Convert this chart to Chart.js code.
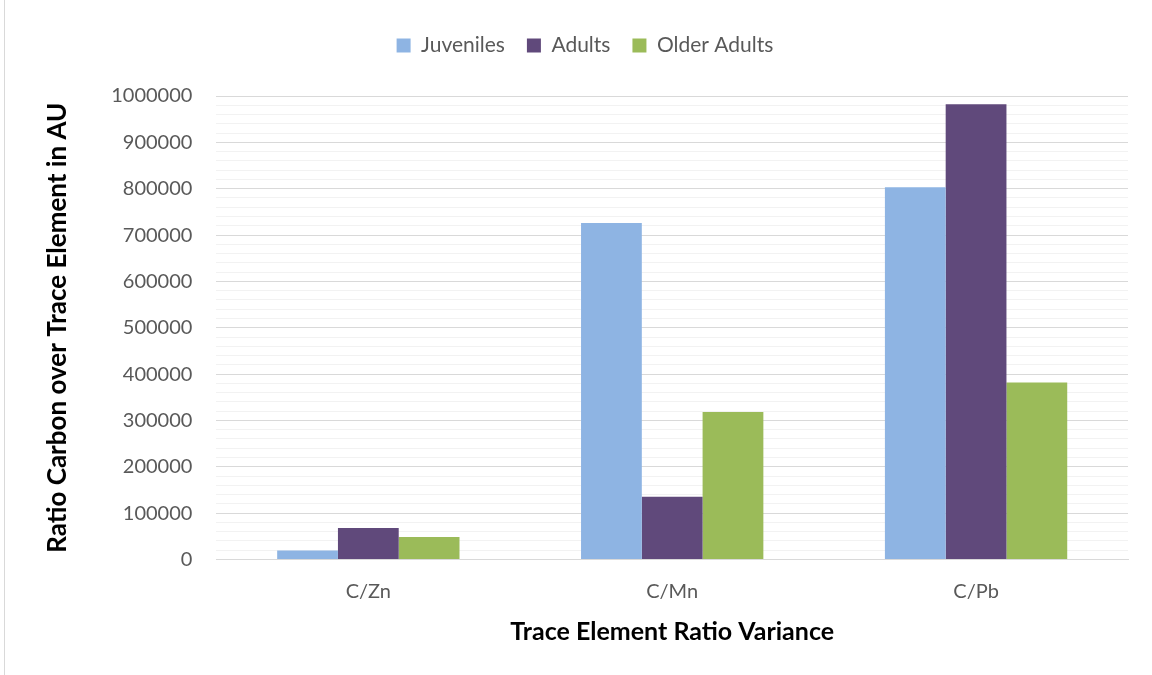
<!DOCTYPE html>
<html>
<head>
<meta charset="utf-8">
<script src="https://cdn.jsdelivr.net/npm/chart.js@4"></script>
<style>
  html, body { margin: 0; padding: 0; background: #fff; }
  #wrap { position: relative; width: 1152px; height: 675px; }
  #frame { position: absolute; left: 4px; top: 0; width: 1px; height: 675px; background: #d9d9d9; }
</style>
</head>
<body>
<div id="wrap">
  <div id="frame"></div>
  <canvas id="barChart" width="1152" height="675"></canvas>
</div>
<script>
var categories = ['C/Zn', 'C/Mn', 'C/Pb'];
var juveniles = [19500, 726000, 803000];
var adults = [68000, 135500, 982000];
var olderAdults = [48500, 318000, 382000];

var fontFamily = 'Lato, "Open Sans", sans-serif';

// extra room under the legend
var legendMargin = {
    id: 'legendMargin',
    beforeInit: function (chart) {
        var fit = chart.legend.fit;
        chart.legend.fit = function () {
            fit.bind(chart.legend)();
            this.height += 30;
        };
    }
};

var ctx = document.getElementById('barChart').getContext('2d');
var myBarChart = new Chart(ctx, {
    type: 'bar',
    data: {
        labels: categories,
        datasets: [{
            label: 'Juveniles',
            data: juveniles,
            backgroundColor: 'rgb(142, 180, 227)'
        }, {
            label: 'Adults',
            data: adults,
            backgroundColor: 'rgb(96, 73, 123)'
        }, {
            label: 'Older Adults',
            data: olderAdults,
            backgroundColor: 'rgb(155, 187, 89)'
        }]
    },
    plugins: [legendMargin],
    options: {
        responsive: false,
        animation: false,
        datasets: {
            bar: { categoryPercentage: 0.6, barPercentage: 1.0 }
        },
        layout: { padding: { top: 13, right: 24, bottom: 34, left: 42 } },
        plugins: {
            legend: {
                position: 'top',
                labels: {
                    boxWidth: 14,
                    boxHeight: 14,
                    padding: 22,
                    color: '#595959',
                    font: { family: fontFamily, size: 21 }
                }
            },
            tooltip: { enabled: false }
        },
        scales: {
            x: {
                grid: { display: false, drawTicks: false },
                border: { color: '#d9d9d9' },
                ticks: {
                    color: '#595959',
                    padding: 20,
                    font: { family: fontFamily, size: 20 }
                },
                title: {
                    display: true,
                    text: 'Trace Element Ratio Variance',
                    color: '#000',
                    padding: { top: 0, bottom: 0 },
                    font: { family: fontFamily, size: 25, weight: 'bold', lineHeight: 0.7 }
                }
            },
            y: {
                min: 0,
                max: 1000000,
                border: { display: false },
                grid: {
                    drawTicks: false,
                    color: function (c) {
                        return c.tick && c.tick.value % 100000 === 0 ? '#d9d9d9' : '#f2f2f2';
                    }
                },
                ticks: {
                    stepSize: 20000,
                    autoSkip: false,
                    padding: 24,
                    color: '#595959',
                    font: { family: fontFamily, size: 20 },
                    callback: function (v) {
                        return v % 100000 === 0 ? String(v) : '';
                    }
                },
                title: {
                    display: true,
                    text: 'Ratio Carbon over Trace Element in AU',
                    color: '#000',
                    padding: { top: 0, bottom: 14 },
                    font: { family: fontFamily, size: 26, weight: 'bold' }
                }
            }
        }
    }
});
</script>
</body>
</html>
